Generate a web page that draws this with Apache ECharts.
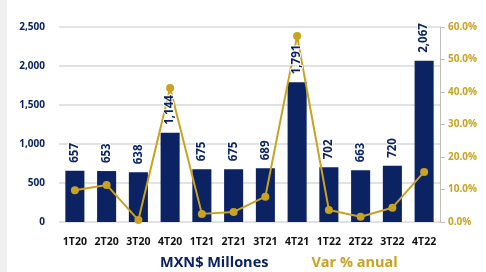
<!DOCTYPE html>
<html>
<head>
<meta charset="utf-8">
<script src="https://cdn.jsdelivr.net/npm/echarts@6/dist/echarts.min.js"></script>
<style>
  html, body { margin: 0; padding: 0; background: #fff; }
  #side { position: absolute; left: 0; top: 0; width: 7px; height: 272px; background: #f0f0f0; }
  #main { position: absolute; left: 0; top: 0; width: 486px; height: 272px; }
</style>
</head>
<body>
<div id="main"></div>
<div id="side"></div>
<script>
var categories = ['1T20', '2T20', '3T20', '4T20', '1T21', '2T21', '3T21', '4T21', '1T22', '2T22', '3T22', '4T22'];
var millones = [657, 653, 638, 1144, 675, 675, 689, 1791, 702, 663, 720, 2067];
var varAnual = [9.8, 11.4, 0.6, 41.2, 2.5, 3.1, 7.8, 57.2, 3.7, 1.6, 4.4, 15.4];

var NAVY = '#0b2263';
var GOLD = '#c9a21f';
var FONT = 'Open Sans';

var chart = echarts.init(document.getElementById('main'));

var option = {
  animation: false,
  textStyle: { fontFamily: FONT },
  grid: { left: 59, right: 46, top: 27, bottom: 50 },
  legend: {
    bottom: -3,
    left: 150,
    itemWidth: 0,
    itemHeight: 0,
    itemGap: 38,
    selectedMode: false,
    data: [
      { name: 'MXN$ Millones', icon: 'none', textStyle: { color: NAVY } },
      { name: 'Var % anual', icon: 'none', textStyle: { color: GOLD } }
    ],
    textStyle: { fontSize: 14.5, fontWeight: 'bold', fontFamily: FONT }
  },
  xAxis: {
    type: 'category',
    data: categories,
    axisLine: { show: false },
    axisTick: { show: false },
    axisLabel: { color: '#111', fontWeight: 'bold', fontSize: 10.5, margin: 15, interval: 0 }
  },
  yAxis: [{
    type: 'value',
    min: 0,
    max: 2500,
    interval: 500,
    axisLine: { show: false },
    axisTick: { show: false },
    splitLine: { lineStyle: { color: '#d9d9d9', width: 1.5 } },
    axisLabel: {
      color: NAVY, fontWeight: 'bold', fontSize: 10, margin: 14,
      formatter: function (v) { return v.toLocaleString('en-US'); }
    }
  }, {
    type: 'value',
    min: 0,
    max: 60,
    interval: 10,
    axisLine: { show: true, lineStyle: { color: '#bfbfbf' } },
    axisTick: { show: true, length: 5, lineStyle: { color: '#bfbfbf' } },
    splitLine: { show: false },
    axisLabel: {
      color: GOLD, fontWeight: 'bold', fontSize: 10, margin: 8,
      formatter: function (v) { return v.toFixed(1) + '%'; }
    }
  }],
  series: [{
    name: 'MXN$ Millones',
    type: 'bar',
    data: millones,
    barWidth: '60%',
    itemStyle: { color: NAVY },
    z: 2
  }, {
    name: 'Var % anual',
    type: 'line',
    yAxisIndex: 1,
    data: varAnual,
    symbol: 'circle',
    symbolSize: 8,
    lineStyle: { color: GOLD, width: 2 },
    itemStyle: { color: GOLD },
    z: 3
  }, {
    // same bars again, transparent, only to put the value labels above the line
    name: 'labels',
    type: 'bar',
    data: millones,
    barWidth: '60%',
    barGap: '-100%',
    itemStyle: { color: 'rgba(0,0,0,0)' },
    label: {
      show: true,
      position: 'top',
      rotate: 90,
      align: 'left',
      verticalAlign: 'middle',
      distance: 8,
      color: NAVY,
      fontWeight: 'bold',
      fontSize: 11.5,
      textBorderColor: '#fff',
      textBorderWidth: 2,
      formatter: function (p) { return p.value.toLocaleString('en-US'); }
    },
    silent: true,
    z: 4
  }]
};

chart.setOption(option);
</script>
</body>
</html>
